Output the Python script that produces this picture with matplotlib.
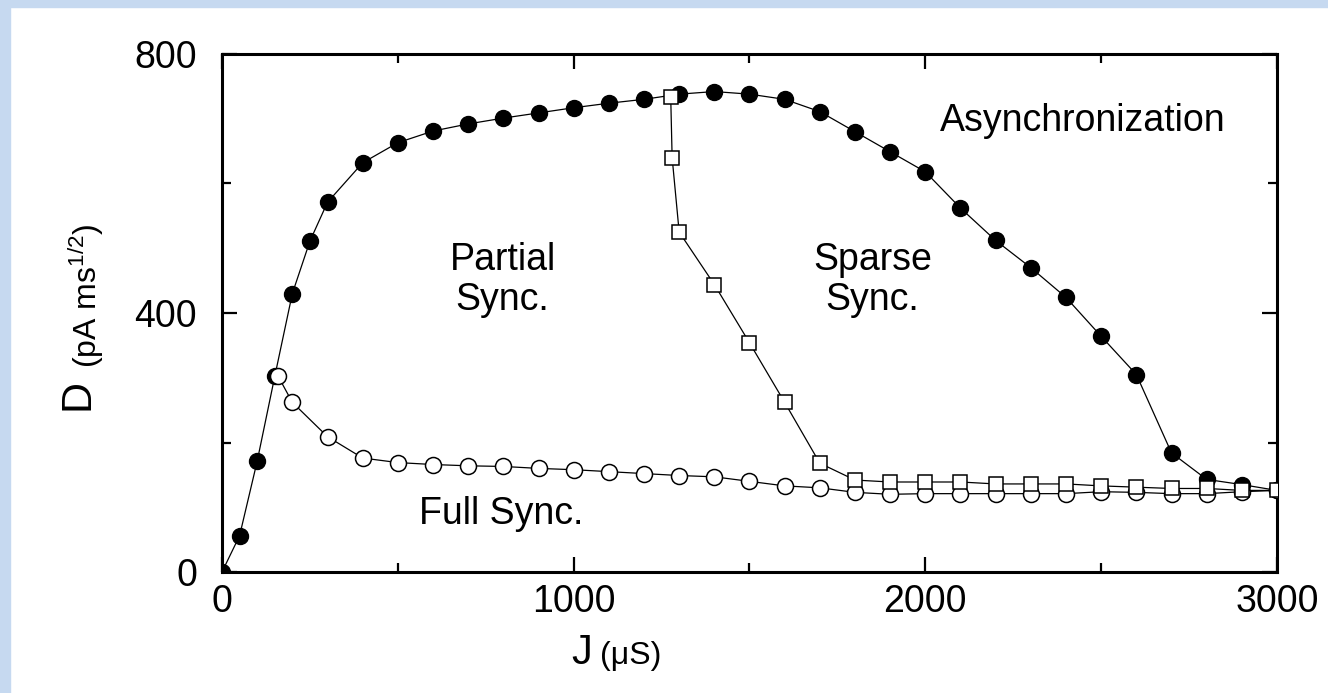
import numpy as np
import matplotlib.pyplot as plt
from matplotlib.patches import Rectangle
from matplotlib.ticker import MultipleLocator

plt.rcParams['font.family'] = ['Liberation Sans', 'DejaVu Sans']
plt.rcParams['mathtext.fontset'] = 'custom'
plt.rcParams['mathtext.rm'] = 'Liberation Sans'

# upper boundary (filled circles)
J_async = [0, 50, 100, 150, 200, 250, 300, 400, 500, 600, 700, 800, 900, 1000,
           1100, 1200, 1300, 1400, 1500, 1600, 1700, 1800, 1900, 2000, 2100,
           2200, 2300, 2400, 2500, 2600, 2700, 2800, 2900, 3000]
D_async = [0, 56, 171, 302, 430, 511, 571, 632, 663, 681, 692, 701, 709, 717,
           724, 730, 738, 742, 738, 730, 711, 680, 649, 618, 562,
           512, 470, 424, 364, 305, 184, 143, 135, 126]

# full sync boundary (open circles)
J_full = [160, 200, 300, 400, 500, 600, 700, 800, 900, 1000, 1100, 1200, 1300,
          1400, 1500, 1600, 1700, 1800, 1900, 2000, 2100, 2200, 2300, 2400,
          2500, 2600, 2700, 2800, 2900, 3000]
D_full = [302, 262, 209, 176, 169, 166, 164, 163, 160, 158, 155, 152, 149,
          147, 140, 133, 130, 123, 120, 121, 121, 121, 121, 121,
          124, 123, 121, 121, 124, 126]

# partial / sparse boundary (open squares)
J_sparse = [1276, 1280, 1300, 1400, 1500, 1600, 1700, 1800, 1900, 2000, 2100,
            2200, 2300, 2400, 2500, 2600, 2700, 2800, 2900, 3000]
D_sparse = [733, 640, 525, 444, 354, 262, 168, 142, 139, 139, 139,
            136, 136, 136, 133, 131, 129, 129, 126, 126]

W, H = 1328, 693
fig = plt.figure(figsize=(W / 100, H / 100), dpi=100)
border = '#c6d9f0'
fig.patches.append(Rectangle((0, 0), 10 / W, 1, transform=fig.transFigure,
                             color=border, zorder=-1))
fig.patches.append(Rectangle((0, 1 - 7 / H), 1, 7 / H, transform=fig.transFigure,
                             color=border, zorder=-1))

ax = fig.add_axes([222 / W, 1 - 572 / H, (1277 - 222) / W, (572 - 54) / H])

ax.plot(J_async, D_async, '-o', color='black', lw=0.9, ms=11.5,
        mfc='black', mec='black', zorder=2)
ax.plot(J_full, D_full, '-o', color='black', lw=0.9, ms=11.5,
        mfc='white', mec='black', mew=1.1, zorder=3)
ax.plot(J_sparse, D_sparse, '-s', color='black', lw=0.9, ms=10,
        mfc='white', mec='black', mew=1.1, zorder=4)

ax.set_xlim(0, 3000)
ax.set_ylim(0, 800)
ax.xaxis.set_major_locator(MultipleLocator(1000))
ax.xaxis.set_minor_locator(MultipleLocator(500))
ax.yaxis.set_major_locator(MultipleLocator(400))
ax.yaxis.set_minor_locator(MultipleLocator(200))
ax.tick_params(which='both', direction='in', top=True, right=True, width=1.6,
               labelsize=27)
ax.tick_params(which='major', length=11)
ax.tick_params(which='minor', length=6.5)
ax.tick_params(axis='x', pad=9)
ax.tick_params(axis='y', pad=18)
for s in ax.spines.values():
    s.set_linewidth(2.2)

txt = dict(fontsize=27, ha='center', va='center', linespacing=1.12)
ax.text(2449, 697, 'Asynchronization', **txt)
ax.text(798, 451, 'Partial\nSync.', **txt)
ax.text(1850, 451, 'Sparse\nSync.', **txt)
ax.text(793, 90, 'Full Sync.', **txt)

# axis labels: large symbol followed by smaller unit
fig.text(592 / W, 1 - 664 / H, 'J', fontsize=30, ha='right', va='baseline')
fig.text(600 / W, 1 - 664 / H, '(\u03bcS)', fontsize=23, ha='left', va='baseline')
fig.text(78 / W, 1 - 410 / H, 'D', fontsize=31, rotation=90,
         ha='center', va='bottom')
fig.text(86 / W, 1 - 368 / H, r'(pA ms$^{\mathregular{1/2}}$)', fontsize=23,
         rotation=90, ha='center', va='bottom')

fig.savefig('out.png', dpi=100)
